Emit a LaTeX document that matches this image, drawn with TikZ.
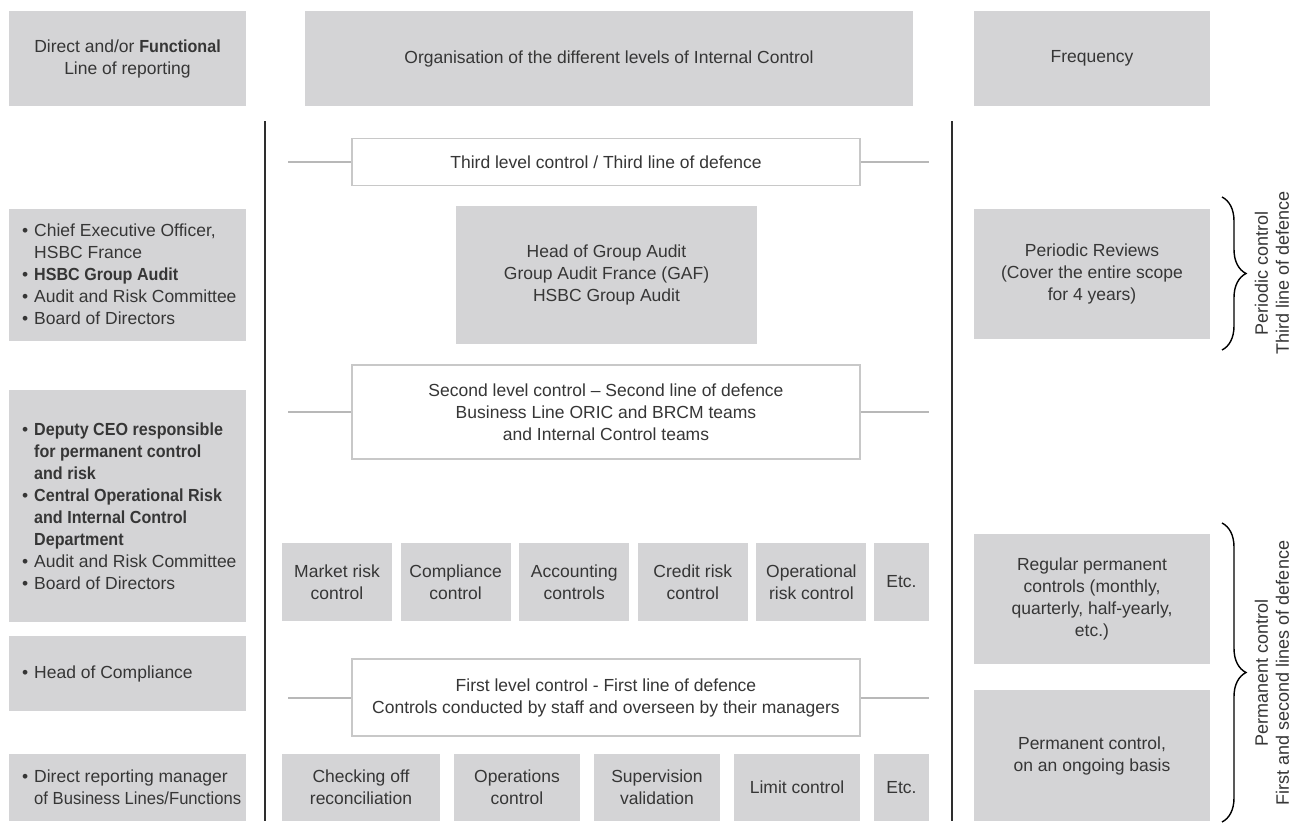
\documentclass[tikz,border=0pt]{standalone}
\usepackage{graphicx}
\usepackage{fontspec}
\setmainfont{Liberation Sans}[BoldFeatures={FakeStretch=0.92}]
\usetikzlibrary{decorations.pathreplacing}
\definecolor{boxgray}{HTML}{D4D4D6}
\definecolor{txt}{HTML}{363636}
\definecolor{edgegray}{HTML}{C8C8C8}
\definecolor{conngray}{HTML}{B8B8B8}
\definecolor{rulecol}{HTML}{2E2E2E}
\newcommand\bitem[1]{\makebox[12pt][l]{\textbullet}#1}
\newcommand\bcont[1]{\hspace*{12pt}#1}
\begin{document}
\begin{tikzpicture}[x=1pt,y=1pt,
  font=\fontsize{17.5}{22}\selectfont, text=txt,
  gbox/.style={fill=boxgray, draw=none, inner sep=0pt, align=center},
  lbox/.style={gbox, minimum width=237pt},
  ltext/.style={anchor=west, inner sep=0pt, align=left},
  rbox/.style={gbox, minimum width=236pt},
  wbox/.style={fill=white, draw=edgegray, line width=1.3pt, inner sep=0pt, align=center, minimum width=508pt},
  conn/.style={draw=conngray, line width=2pt},
  rulestyle/.style={draw=rulecol, line width=1.2pt},
  brc/.style={decorate, decoration={brace, amplitude=24pt}, line width=1.4pt, draw=black},
  sidetext/.style={rotate=90, align=center, font=\fontsize{18}{21}\selectfont}
]
\useasboundingbox (0,0) rectangle (1291,-823);
\fill[white] (0,0) rectangle (1291,-823);

% headers
\node[gbox, minimum width=237pt, minimum height=95pt] (hL) at (127.5,-58.5) {Direct and/or \textbf{Functional}\\Line of reporting};
\node[gbox, minimum width=608pt, minimum height=95pt] (hM) at (609,-58.5) {Organisation of the different levels of Internal Control};
\node[gbox, minimum width=236pt, minimum height=95pt] (hR) at (1092,-58.5) {Frequency};

% vertical rules
\coordinate (vlt) at (265,-121);
\coordinate (vlb) at (265,-821);
\coordinate (vrt) at (952,-121);
\coordinate (vrb) at (952,-821);
\draw[rulestyle] (vlt) -- (vlb);
\draw[rulestyle] (vrt) -- (vrb);

% left column
\node[lbox, minimum height=132pt] (L2) at (127.5,-275) {};
\node[ltext] (L2t) at (22,-274) {\bitem{Chief Executive Officer,}\\\bcont{HSBC France}\\\bitem{\textbf{HSBC Group Audit}}\\\bitem{Audit and Risk Committee}\\\bitem{Board of Directors}};
\node[lbox, minimum height=232pt] (L3) at (127.5,-506) {};
\node[ltext] (L3t) at (22,-506) {\bitem{\textbf{Deputy CEO responsible}}\\\bcont{\textbf{for permanent control}}\\\bcont{\textbf{and risk}}\\\bitem{\textbf{Central Operational Risk}}\\\bcont{\textbf{and Internal Control}}\\\bcont{\textbf{Department}}\\\bitem{Audit and Risk Committee}\\\bitem{Board of Directors}};
\node[lbox, minimum height=75pt] (L4) at (127.5,-673.5) {};
\node[ltext] (L4t) at (22,-673.5) {\bitem{Head of Compliance}};
\node[lbox, minimum height=67pt] (L5) at (127.5,-787.5) {};
\node[ltext] (L5t) at (22,-787.5) {\bitem{Direct reporting manager}\\\bcont{\scalebox{0.95}[1]{of Business Lines/Functions}}};

% middle column
\node[wbox, minimum height=47pt] (third) at (606,-162) {Third level control / Third line of defence};
\node[gbox, minimum width=301pt, minimum height=138pt] (hga) at (606.5,-275) {Head of Group Audit\\Group Audit France (GAF)\\HSBC Group Audit};
\node[wbox, minimum height=94pt] (second) at (606,-412) {Second level control -- Second line of defence\\Business Line ORIC and BRCM teams\\and Internal Control teams};

\node[gbox, minimum width=110pt, minimum height=78pt] (mkt) at (337,-582) {Market risk\\control};
\node[gbox, minimum width=110pt, minimum height=78pt] (cmp) at (455.6,-582) {Compliance\\control};
\node[gbox, minimum width=110pt, minimum height=78pt] (acc) at (574.2,-582) {Accounting\\controls};
\node[gbox, minimum width=110pt, minimum height=78pt] (crd) at (692.8,-582) {Credit risk\\control};
\node[gbox, minimum width=110pt, minimum height=78pt] (opr) at (811.4,-582) {Operational\\risk control};
\node[gbox, minimum width=55pt, minimum height=78pt] (etc1) at (901.5,-582) {Etc.};

\node[wbox, minimum height=77pt] (first) at (606,-697.5) {First level control - First line of defence\\Controls conducted by staff and overseen by their managers};

\node[gbox, minimum width=158pt, minimum height=67pt] (chk) at (361,-787.5) {Checking off\\reconciliation};
\node[gbox, minimum width=126pt, minimum height=67pt] (ops) at (517,-787.5) {Operations\\control};
\node[gbox, minimum width=126pt, minimum height=67pt] (sup) at (657,-787.5) {Supervision\\validation};
\node[gbox, minimum width=126pt, minimum height=67pt] (lim) at (797,-787.5) {Limit control};
\node[gbox, minimum width=55pt, minimum height=67pt] (etc2) at (901.5,-787.5) {Etc.};

% connectors to the rules
\coordinate (c3l) at (288,-162);
\coordinate (c3r) at (929,-162);
\coordinate (c2l) at (288,-412);
\coordinate (c2r) at (929,-412);
\coordinate (c1l) at (288,-697.5);
\coordinate (c1r) at (929,-697.5);
\draw[conn] (c3l) -- (third.west);
\draw[conn] (third.east) -- (c3r);
\draw[conn] (c2l) -- (second.west);
\draw[conn] (second.east) -- (c2r);
\draw[conn] (c1l) -- (first.west);
\draw[conn] (first.east) -- (c1r);

% right column
\node[rbox, minimum height=130pt] (per) at (1092,-274) {Periodic Reviews\\(Cover the entire scope\\for 4 years)};
\node[rbox, minimum height=130pt] (reg) at (1092,-599) {Regular permanent\\controls (monthly,\\quarterly, half-yearly,\\etc.)};
\node[rbox, minimum height=131pt] (perm) at (1092,-755.5) {Permanent control,\\on an ongoing basis};

% braces
\coordinate (b1t) at (1222,-197);
\coordinate (b1b) at (1222,-350);
\coordinate (b2t) at (1222,-523);
\coordinate (b2b) at (1222,-822);
\draw[brc] (b1t) -- (b1b);
\draw[brc] (b2t) -- (b2b);
\node[sidetext] (s1) at (1272,-273) {Periodic control\\Third line of defence};
\node[sidetext] (s2) at (1272,-673) {Permanent control\\First and second lines of defence};
\end{tikzpicture}
\end{document}
